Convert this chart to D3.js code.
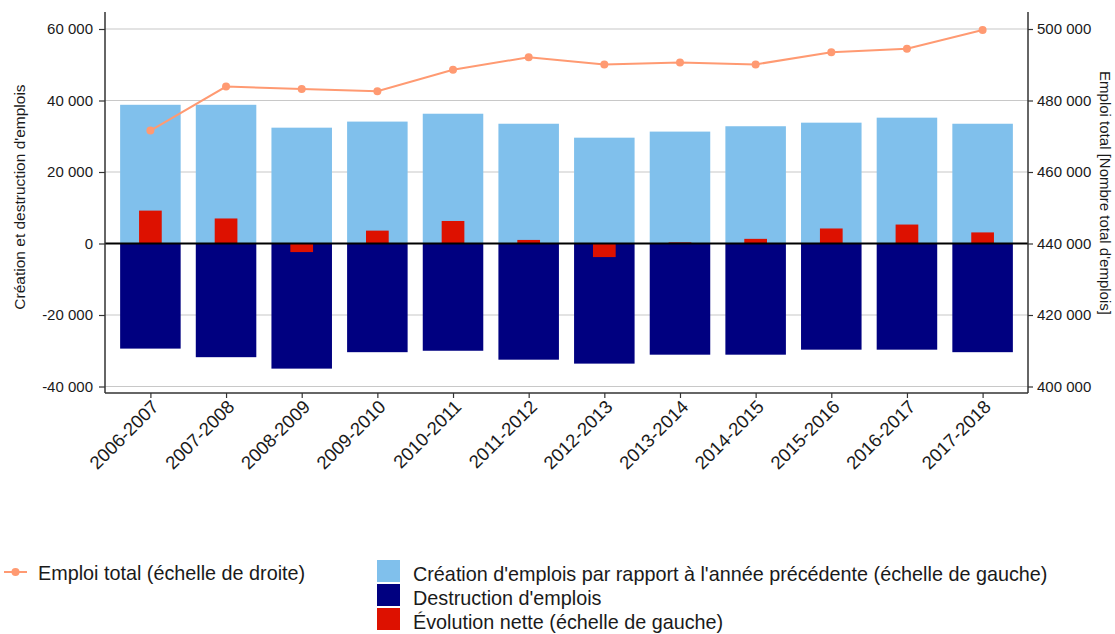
<!DOCTYPE html>
<html>
<head>
<meta charset="utf-8">
<script src="https://cdn.jsdelivr.net/npm/d3@7"></script>
<style>
  body { margin: 0; background: #fff; }
  text { font-family: "Liberation Sans", Arial, sans-serif; }
</style>
</head>
<body>
<script>
(function() {
    'use strict';

    var periods = ['2006-2007', '2007-2008', '2008-2009', '2009-2010', '2010-2011', '2011-2012',
        '2012-2013', '2013-2014', '2014-2015', '2015-2016', '2016-2017', '2017-2018'];
    var creation = [38800, 38800, 32400, 34100, 36300, 33500, 29600, 31300, 32800, 33800, 35200, 33500];
    var destruction = [-29400, -31800, -35000, -30400, -30000, -32500, -33600, -31100, -31100, -29700, -29700, -30400];
    var netChange = [9200, 7000, -2400, 3600, 6300, 1000, -3800, 300, 1300, 4200, 5300, 3100];
    var totalJobs = [471600, 483900, 483200, 482600, 488600, 492100, 490100, 490600, 490100, 493500, 494500, 499700];
    var leftTicks = [-40000, -20000, 0, 20000, 40000, 60000];
    var rightTicks = [400000, 420000, 440000, 460000, 480000, 500000];

    var width = 1115, height = 634;
    var panel = { left: 105, right: 1028, top: 12, bottom: 393 };

    var svg = d3.select('body').append('svg')
        .attr('width', width)
        .attr('height', height);

    var x = d3.scalePoint()
        .domain(periods)
        .range([panel.left, panel.right])
        .padding(0.6);
    var step = x.step();

    var yLeft = d3.scaleLinear().domain([-40000, 60000]).range([386.5, 29]);
    var yRight = d3.scaleLinear().domain([400000, 500000]).range([386.5, 29]);

    var fmt = function(d) {
        return d3.format(',')(d).replace(/,/g, ' ').replace('−', '-');
    };

    // grid
    svg.append('g').selectAll('line')
        .data(leftTicks)
        .join('line')
        .attr('x1', panel.left)
        .attr('x2', panel.right)
        .attr('y1', function(d) { return yLeft(d); })
        .attr('y2', function(d) { return yLeft(d); })
        .attr('stroke', '#c8c8c8')
        .attr('stroke-width', 1.2);

    // creation bars
    svg.append('g').selectAll('rect')
        .data(creation)
        .join('rect')
        .attr('x', function(d, i) { return x(periods[i]) - step * 0.4; })
        .attr('width', step * 0.8)
        .attr('y', function(d) { return yLeft(d); })
        .attr('height', function(d) { return yLeft(0) - yLeft(d); })
        .attr('fill', '#80c0ec');

    // destruction bars
    svg.append('g').selectAll('rect')
        .data(destruction)
        .join('rect')
        .attr('x', function(d, i) { return x(periods[i]) - step * 0.4; })
        .attr('width', step * 0.8)
        .attr('y', yLeft(0))
        .attr('height', function(d) { return yLeft(d) - yLeft(0); })
        .attr('fill', '#000080');

    // net bars
    svg.append('g').selectAll('rect')
        .data(netChange)
        .join('rect')
        .attr('x', function(d, i) { return x(periods[i]) - step * 0.15; })
        .attr('width', step * 0.3)
        .attr('y', function(d) { return yLeft(Math.max(0, d)); })
        .attr('height', function(d) { return Math.abs(yLeft(d) - yLeft(0)); })
        .attr('fill', '#dd1100');

    // zero line
    svg.append('line')
        .attr('x1', panel.left)
        .attr('x2', panel.right)
        .attr('y1', yLeft(0))
        .attr('y2', yLeft(0))
        .attr('stroke', '#000')
        .attr('stroke-width', 2.2);

    // total jobs line
    var line = d3.line()
        .x(function(d, i) { return x(periods[i]); })
        .y(function(d) { return yRight(d); });

    svg.append('path')
        .datum(totalJobs)
        .attr('d', line)
        .attr('fill', 'none')
        .attr('stroke', '#ff9a72')
        .attr('stroke-width', 2);

    svg.append('g').selectAll('circle')
        .data(totalJobs)
        .join('circle')
        .attr('cx', function(d, i) { return x(periods[i]); })
        .attr('cy', function(d) { return yRight(d); })
        .attr('r', 4)
        .attr('fill', '#ff9a72');

    // axes
    var leftAxis = svg.append('g')
        .attr('transform', 'translate(' + panel.left + ',0)')
        .call(d3.axisLeft(yLeft).tickValues(leftTicks).tickFormat(fmt).tickSize(6).tickPadding(6));
    var rightAxis = svg.append('g')
        .attr('transform', 'translate(' + panel.right + ',0)')
        .call(d3.axisRight(yRight).tickValues(rightTicks).tickFormat(fmt).tickSize(5).tickPadding(4));
    var bottomAxis = svg.append('g')
        .attr('transform', 'translate(0,' + panel.bottom + ')')
        .call(d3.axisBottom(x).tickSize(5).tickSizeOuter(0));

    [leftAxis, rightAxis].forEach(function(a) {
        a.select('.domain').attr('d', 'M0,' + panel.top + 'V' + panel.bottom);
    });
    bottomAxis.select('.domain').attr('d', 'M' + panel.left + ',0H' + panel.right);

    svg.selectAll('.domain').attr('stroke', '#333').attr('stroke-width', 1.5);
    svg.selectAll('.tick line').attr('stroke', '#333').attr('stroke-width', 1.2);
    svg.selectAll('.tick text').attr('fill', '#1a1a1a').style('font-size', '15px');

    bottomAxis.selectAll('.tick text')
        .style('font-size', '18.5px')
        .attr('text-anchor', 'end')
        .attr('dy', null)
        .attr('y', 0)
        .attr('transform', 'translate(9,15) rotate(-45)');

    // axis titles
    svg.append('text')
        .attr('transform', 'translate(25,197) rotate(-90)')
        .attr('text-anchor', 'middle')
        .style('font-size', '15.5px')
        .attr('fill', '#1a1a1a')
        .text("Création et destruction d'emplois");

    svg.append('text')
        .attr('transform', 'translate(1100,193) rotate(90)')
        .attr('text-anchor', 'middle')
        .style('font-size', '15px')
        .attr('fill', '#1a1a1a')
        .text("Emploi total [Nombre total d'emplois]");

    // legend
    var legend = svg.append('g');
    legend.append('line')
        .attr('x1', 4).attr('x2', 27)
        .attr('y1', 572).attr('y2', 572)
        .attr('stroke', '#ff9a72').attr('stroke-width', 2);
    legend.append('circle')
        .attr('cx', 15.5).attr('cy', 572).attr('r', 4)
        .attr('fill', '#ff9a72');
    legend.append('text')
        .attr('x', 38).attr('y', 580)
        .style('font-size', '19.8px')
        .attr('fill', '#1a1a1a')
        .text('Emploi total (échelle de droite)');

    var barKeys = [
        { label: "Création d'emplois par rapport à l'année précédente (échelle de gauche)", color: '#80c0ec' },
        { label: "Destruction d'emplois", color: '#000080' },
        { label: 'Évolution nette (échelle de gauche)', color: '#dd1100' }
    ];
    var keys = legend.selectAll('g.key')
        .data(barKeys)
        .join('g')
        .attr('class', 'key')
        .attr('transform', function(d, i) { return 'translate(377,' + (560 + i * 24) + ')'; });
    keys.append('rect')
        .attr('width', 23).attr('height', 22)
        .attr('fill', function(d) { return d.color; });
    keys.append('text')
        .attr('x', 36).attr('y', 21)
        .style('font-size', '19.8px')
        .attr('fill', '#1a1a1a')
        .text(function(d) { return d.label; });

}());
</script>
</body>
</html>
